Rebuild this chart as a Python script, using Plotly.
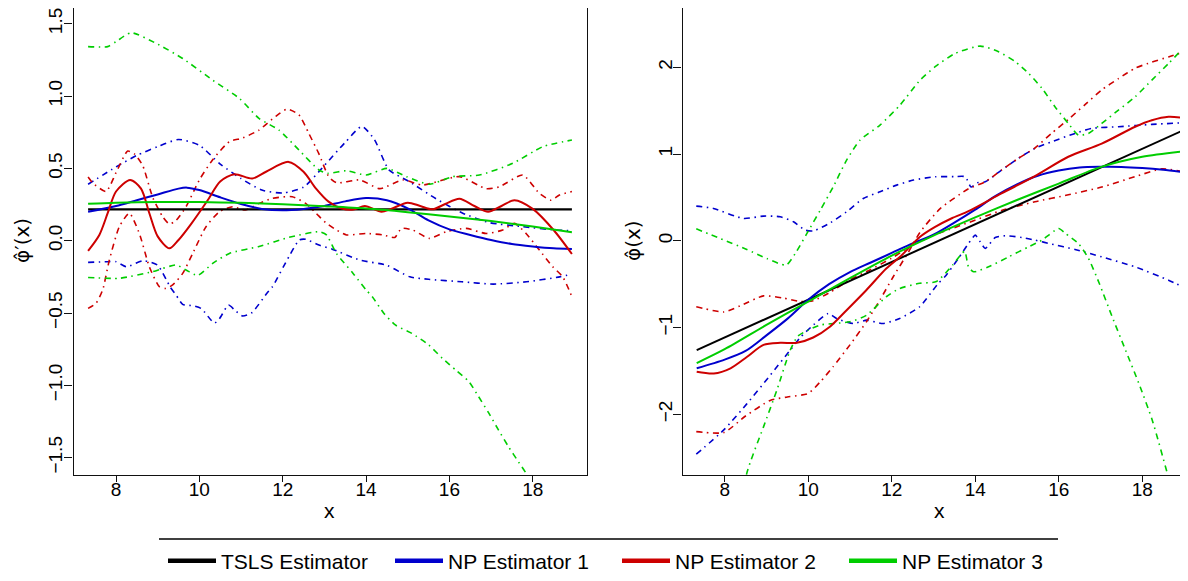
import plotly.graph_objects as go

# ---------------- LEFT PANEL: derivative estimates ----------------
L_tsls_x = [7.33, 18.94]
L_tsls_y = [0.217, 0.217]

L_np1_x = [7.33, 8.0, 8.5, 9.0, 9.5, 9.7, 10.0, 10.5, 11.0, 11.5, 12.0, 12.5, 13.0, 13.5, 14.0,
           14.5, 15.0, 15.5, 16.0, 16.5, 17.0, 17.5, 18.0, 18.5, 18.94]
L_np1_y = [0.20, 0.24, 0.28, 0.32, 0.36, 0.367, 0.35, 0.30, 0.254, 0.22, 0.21, 0.22, 0.24, 0.272, 0.295,
           0.28, 0.224, 0.14, 0.078, 0.04, 0.005, -0.023, -0.04, -0.053, -0.058]

L_np2_x = [7.33, 7.6, 7.8, 8.0, 8.34, 8.6, 8.8, 9.0, 9.28, 9.5, 9.8, 10.2, 10.5, 10.84, 11.27, 11.6,
           12.14, 12.5, 12.8, 13.1, 13.4, 13.7, 13.97, 14.37, 14.6, 15.0, 15.3, 15.6, 15.9, 16.24,
           16.6, 16.93, 17.25, 17.56, 18.0, 18.5, 18.94]
L_np2_y = [-0.07, 0.04, 0.19, 0.34, 0.42, 0.36, 0.19, 0.03, -0.053, 0.005, 0.115, 0.28, 0.41, 0.46, 0.43, 0.477,
           0.545, 0.477, 0.36, 0.27, 0.224, 0.215, 0.24, 0.20, 0.22, 0.263, 0.24, 0.217, 0.254, 0.29,
           0.24, 0.20, 0.24, 0.28, 0.22, 0.074, -0.092]

L_np3_x = [7.33, 8, 9, 10, 11, 12, 13, 14, 15, 16, 17, 18, 18.94]
L_np3_y = [0.255, 0.262, 0.267, 0.267, 0.262, 0.252, 0.238, 0.222, 0.197, 0.168, 0.136, 0.098, 0.058]

L_np1_up_x = [7.33, 8.0, 8.5, 9.0, 9.5, 10.0, 10.5, 11.0, 11.5, 12.0, 12.5, 13.0, 13.5, 13.9, 14.2,
              14.55, 15.03, 15.68, 16.32, 16.96, 17.76, 18.56, 18.94]
L_np1_up_y = [0.39, 0.51, 0.59, 0.65, 0.70, 0.66, 0.53, 0.43, 0.35, 0.33, 0.37, 0.52, 0.68, 0.79, 0.70,
              0.49, 0.41, 0.29, 0.19, 0.125, 0.097, 0.074, 0.07]

L_np1_lo_x = [7.33, 7.8, 8.0, 8.25, 8.65, 9.0, 9.3, 9.45, 9.6, 9.85, 10.05, 10.36, 10.48, 10.7, 10.85,
              11.03, 11.25, 11.63, 11.75, 12.15, 12.4, 12.55, 12.87, 13.2, 13.85, 14.5, 15.05, 15.5,
              16.3, 17.05, 17.85, 18.65, 18.94]
L_np1_lo_y = [-0.15, -0.145, -0.145, -0.18, -0.138, -0.17, -0.32, -0.38, -0.44, -0.45, -0.47, -0.57, -0.54,
              -0.445, -0.48, -0.52, -0.50, -0.36, -0.32, -0.11, 0.005, 0.01, -0.03, -0.06, -0.134, -0.17,
              -0.25, -0.267, -0.284, -0.30, -0.284, -0.25, -0.23]

L_np2_up_x = [7.33, 7.44, 7.76, 8.0, 8.28, 8.44, 8.64, 8.88, 9.12, 9.28, 9.44, 9.68, 10.0, 10.32, 10.72,
              11.04, 11.43, 11.83, 12.11, 12.39, 12.63, 12.87, 13.11, 13.3, 13.85, 14.33, 14.88, 15.36,
              16.24, 16.88, 17.2, 17.76, 18.16, 18.44, 18.64, 18.94]
L_np2_up_y = [0.44, 0.40, 0.34, 0.47, 0.62, 0.60, 0.52, 0.30, 0.166, 0.115, 0.14, 0.235, 0.42, 0.56, 0.685,
              0.71, 0.765, 0.86, 0.91, 0.87, 0.74, 0.60, 0.44, 0.40, 0.42, 0.36, 0.42, 0.385,
              0.443, 0.36, 0.373, 0.454, 0.327, 0.28, 0.316, 0.34]

L_np2_lo_x = [7.33, 7.52, 7.68, 7.84, 8.08, 8.32, 8.56, 8.8, 9.04, 9.2, 9.36, 9.6, 9.84, 10.16, 10.48,
              10.8, 11.1, 11.43, 11.75, 12.23, 12.55, 12.8, 13.03, 13.29, 13.53, 14.0, 14.4, 14.69,
              14.85, 15.12, 15.52, 15.92, 16.4, 16.88, 17.28, 17.56, 17.84, 18.16, 18.48, 18.72, 18.94]
L_np2_lo_y = [-0.468, -0.433, -0.34, -0.134, 0.097, 0.19, 0.05, -0.18, -0.318, -0.33, -0.306, -0.226, -0.088,
              0.097, 0.20, 0.235, 0.212, 0.258, 0.293, 0.304, 0.258, 0.19, 0.125, 0.074, 0.04, 0.05, 0.04,
              0.023, 0.085, 0.074, 0.016, 0.062, 0.085, 0.05, 0.074, 0.12, 0.05, -0.065, -0.18, -0.25, -0.387]

L_np3_up_x = [7.33, 7.8, 8.0, 8.36, 8.96, 9.6, 10.32, 10.96, 11.43, 11.91, 12.39, 12.87, 13.08, 13.53,
              14.0, 14.5, 14.97, 15.52, 16.08, 16.72, 17.52, 18.24, 18.94]
L_np3_up_y = [1.342, 1.342, 1.376, 1.438, 1.365, 1.26, 1.11, 0.984, 0.846, 0.765, 0.627, 0.489, 0.466, 0.484,
              0.454, 0.50, 0.443, 0.39, 0.443, 0.454, 0.535, 0.65, 0.696]

L_np3_lo_x = [7.33, 8.08, 8.88, 9.44, 9.68, 9.96, 10.32, 10.72, 11.43, 12.15, 12.87, 13.05, 13.29, 13.69,
              14.0, 14.15, 14.43, 14.71, 15.1, 15.5, 15.83, 16.15, 16.47, 16.7, 16.95, 17.18, 17.42,
              17.66, 17.86, 18.3, 18.94]
L_np3_lo_y = [-0.254, -0.26, -0.214, -0.168, -0.203, -0.24, -0.157, -0.088, -0.04, 0.023, 0.062, 0.04, -0.088,
              -0.226, -0.34, -0.387, -0.503, -0.584, -0.641, -0.72, -0.813, -0.894, -0.975, -1.078, -1.194,
              -1.31, -1.425, -1.53, -1.617, -1.85, -2.2]

# ---------------- RIGHT PANEL: function estimates ----------------
R_tsls_x = [7.33, 18.94]
R_tsls_y = [-1.26, 1.265]

R_np1_x = [7.33, 8.0, 8.5, 9.0, 9.5, 10.0, 10.5, 11.0, 11.5, 12.0, 12.5, 13.0, 13.5, 14.0, 14.5, 15.0,
           15.5, 16.0, 16.5, 17.0, 17.5, 18.0, 18.5, 18.94]
R_np1_y = [-1.47, -1.37, -1.27, -1.09, -0.90, -0.68, -0.50, -0.36, -0.25, -0.14, -0.03, 0.07, 0.21, 0.36,
           0.52, 0.65, 0.75, 0.81, 0.845, 0.853, 0.852, 0.84, 0.82, 0.795]

R_np2_x = [7.33, 7.74, 8.14, 8.53, 8.93, 9.33, 9.73, 10.12, 10.52, 10.92, 11.39, 11.87, 12.2, 12.68,
           13.04, 13.44, 13.84, 14.63, 15.43, 16.23, 17.03, 17.83, 18.23, 18.63, 18.94]
R_np2_y = [-1.51, -1.53, -1.47, -1.34, -1.20, -1.176, -1.176, -1.115, -0.99, -0.80, -0.57, -0.32, -0.185, 0.046,
           0.16, 0.26, 0.342, 0.546, 0.746, 0.969, 1.12, 1.315, 1.39, 1.43, 1.42]

R_np3_x = [7.33, 8, 9, 10, 11, 12, 13, 14, 15, 16, 17, 18, 18.94]
R_np3_y = [-1.41, -1.25, -0.97, -0.70, -0.43, -0.17, 0.06, 0.27, 0.47, 0.66, 0.85, 0.97, 1.03]

R_np1_up_x = [7.32, 7.73, 8.45, 8.93, 9.33, 9.65, 9.93, 10.13, 10.53, 10.92, 11.32, 11.72, 12.12, 12.52,
              13.04, 13.5, 13.76, 13.9, 14.05, 14.24, 14.63, 15.03, 15.43, 15.83, 16.39, 16.79, 17.43,
              18.23, 18.94]
R_np1_up_y = [0.40, 0.373, 0.258, 0.285, 0.277, 0.219, 0.123, 0.115, 0.208, 0.334, 0.488, 0.565, 0.642, 0.70,
              0.738, 0.74, 0.738, 0.62, 0.67, 0.68, 0.815, 0.95, 1.065, 1.142, 1.238, 1.296, 1.315,
              1.342, 1.36]

R_np1_lo_x = [7.32, 7.98, 8.53, 9.09, 9.57, 9.81, 10.12, 10.48, 10.68, 11.08, 11.4, 11.79, 12.19, 12.67,
              13.1, 13.3, 13.6, 13.84, 14.0, 14.12, 14.24, 14.48, 14.72, 15.12, 15.43, 15.83, 16.39,
              17.03, 17.83, 18.63, 18.94]
R_np1_lo_y = [-2.46, -2.18, -1.88, -1.55, -1.26, -1.115, -0.972, -0.838, -0.896, -0.953, -0.915, -0.953,
              -0.896, -0.76, -0.5, -0.4, -0.2, -0.03, 0.065, -0.012, -0.088, 0.038, 0.058, 0.038, 0.008,
              -0.038, -0.1, -0.185, -0.30, -0.454, -0.523]

R_np2_a_x = [7.32, 7.98, 8.37, 8.93, 9.41, 9.81, 10.12, 10.5, 11.0, 11.5, 12.0, 12.5, 13.04, 13.84, 14.63,
             15.43, 16.23, 17.03, 17.83, 18.47, 18.94]
R_np2_a_y = [-0.76, -0.82, -0.75, -0.635, -0.66, -0.70, -0.69, -0.60, -0.45, -0.33, -0.20, -0.05, 0.07, 0.21,
             0.35, 0.45, 0.53, 0.62, 0.74, 0.83, 0.80]

R_np2_b_x = [7.32, 7.98, 8.5, 9.09, 9.5, 10.0, 10.3, 10.6, 11.0, 11.4, 11.72, 12.03, 12.4, 12.68, 13.16,
             13.84, 14.24, 14.63, 15.03, 15.43, 15.83, 16.23, 16.63, 17.03, 17.43, 17.83, 18.23, 18.63,
             18.94]
R_np2_b_y = [-2.20, -2.21, -2.02, -1.84, -1.80, -1.76, -1.62, -1.45, -1.20, -0.93, -0.68, -0.42, -0.13, 0.10,
             0.37, 0.60, 0.68, 0.815, 0.95, 1.07, 1.24, 1.40, 1.57, 1.74, 1.87, 1.99, 2.06, 2.12, 2.17]

R_np3_up_x = [7.32, 7.89, 8.53, 9.01, 9.47, 9.69, 9.97, 10.29, 10.6, 10.92, 11.24, 11.72, 12.2, 12.68,
              13.04, 13.52, 14.12, 14.56, 14.96, 15.28, 15.6, 15.91, 16.23, 16.47, 16.71, 17.03, 17.43,
              17.83, 18.23, 18.63, 18.94]
R_np3_up_y = [0.138, 0.027, -0.1, -0.204, -0.28, -0.146, 0.085, 0.354, 0.623, 0.93, 1.16, 1.334, 1.565, 1.853,
              2.007, 2.16, 2.245, 2.18, 2.065, 1.93, 1.757, 1.546, 1.353, 1.219, 1.238, 1.353, 1.507,
              1.66, 1.853, 2.045, 2.2]

R_np3_lo_x = [8.3, 8.53, 8.93, 9.25, 9.57, 9.75, 10.0, 10.3, 10.62, 11.0, 11.4, 11.87, 12.19, 12.67, 13.07,
              13.46, 13.68, 13.75, 13.84, 13.96, 14.32, 14.8, 15.28, 15.6, 16.0, 16.16, 16.47, 16.71,
              16.97, 17.28, 17.6, 17.92, 18.24, 18.6, 18.94]
R_np3_lo_y = [-3.45, -2.68, -2.145, -1.722, -1.26, -1.10, -1.03, -0.97, -0.953, -0.934, -0.857, -0.645, -0.55,
              -0.49, -0.47, -0.28, -0.146, -0.12, -0.30, -0.357, -0.30, -0.185, -0.069, 0.008, 0.142,
              0.085, -0.03, -0.2, -0.49, -0.876, -1.26, -1.645, -2.068, -2.68, -3.3]

# ---------------- labels / styling ----------------
legend_names = ["TSLS Estimator", "NP Estimator 1", "NP Estimator 2", "NP Estimator 3"]
colors = ["#000000", "#0000CD", "#CD0000", "#00CD00"]
x_ticks = [8, 10, 12, 14, 16, 18]
left_y_ticks = [-1.5, -1.0, -0.5, 0.0, 0.5, 1.0, 1.5]
right_y_ticks = [-2, -1, 0, 1, 2]

FONT = "Liberation Sans, Arial, Helvetica, sans-serif"
TITLE_FONT = "DejaVu Sans, Liberation Sans, sans-serif"
OFF = 8                      # page body margin of the html page
W, H = 1188 - OFF, 581 - OFF  # figure size so that it fills the window


def px(v):   # page x pixel -> paper fraction
    return (v - OFF) / W


def py(v):   # page y pixel -> paper fraction
    return 1 - (v - OFF) / H


DASHDOT = "6px,4.5px,1.5px,4.5px"

fig = go.Figure()


def add(x, y, color, dash=None, width=2.0, xa="x", ya="y", smooth=0.8):
    fig.add_trace(go.Scatter(
        x=x, y=y, mode="lines", xaxis=xa, yaxis=ya, showlegend=False, hoverinfo="skip",
        line=dict(color=color, width=width, dash=dash, shape="spline", smoothing=smooth)))


# left panel
add(L_np1_up_x, L_np1_up_y, colors[1], DASHDOT, 1.6, smooth=0.6)
add(L_np1_lo_x, L_np1_lo_y, colors[1], DASHDOT, 1.6, smooth=0.6)
add(L_np2_up_x, L_np2_up_y, colors[2], DASHDOT, 1.6, smooth=0.6)
add(L_np2_lo_x, L_np2_lo_y, colors[2], DASHDOT, 1.6, smooth=0.6)
add(L_np3_up_x, L_np3_up_y, colors[3], DASHDOT, 1.6, smooth=0.6)
add(L_np3_lo_x, L_np3_lo_y, colors[3], DASHDOT, 1.6, smooth=0.6)
add(L_tsls_x, L_tsls_y, colors[0], None, 2.2)
add(L_np1_x, L_np1_y, colors[1], None, 2.0)
add(L_np2_x, L_np2_y, colors[2], None, 2.0)
add(L_np3_x, L_np3_y, colors[3], None, 2.0)

# right panel
add(R_np1_up_x, R_np1_up_y, colors[1], DASHDOT, 1.6, "x2", "y2", 0.6)
add(R_np1_lo_x, R_np1_lo_y, colors[1], DASHDOT, 1.6, "x2", "y2", 0.6)
add(R_np2_a_x, R_np2_a_y, colors[2], DASHDOT, 1.6, "x2", "y2", 0.6)
add(R_np2_b_x, R_np2_b_y, colors[2], DASHDOT, 1.6, "x2", "y2", 0.6)
add(R_np3_up_x, R_np3_up_y, colors[3], DASHDOT, 1.6, "x2", "y2", 0.6)
add(R_np3_lo_x, R_np3_lo_y, colors[3], DASHDOT, 1.6, "x2", "y2", 0.6)
add(R_tsls_x, R_tsls_y, colors[0], None, 2.0, "x2", "y2")
add(R_np1_x, R_np1_y, colors[1], None, 2.0, "x2", "y2")
add(R_np2_x, R_np2_y, colors[2], None, 2.0, "x2", "y2")
add(R_np3_x, R_np3_y, colors[3], None, 2.0, "x2", "y2")

# legend entries
for name, c in zip(legend_names, colors):
    fig.add_trace(go.Scatter(x=[None], y=[None], mode="lines", name=name,
                             line=dict(color=c, width=4.5), xaxis="x", yaxis="y"))

# plot box: bottom at page y 475, top clipped at the page offset (8px)
ydom = [py(475), 1.0]
axis_common = dict(showgrid=False, zeroline=False, showline=True, linecolor="#111", linewidth=1.3,
                   ticks="outside", tickcolor="#111", tickwidth=1.2, automargin=False,
                   ticklabeloverflow="allow",
                   tickfont=dict(family=FONT, size=19, color="#000"))

fig.update_layout(
    width=W, height=H, autosize=False,
    margin=dict(l=0, r=0, t=0, b=0, autoexpand=False),
    paper_bgcolor="white", plot_bgcolor="white",
    font=dict(family=FONT, color="#000"),
    xaxis=dict(domain=[px(73.5), px(586.5)], range=[6.98, 19.29], tickvals=x_ticks,
               mirror=True, ticklen=6, ticklabelstandoff=-9, anchor="y", **axis_common),
    yaxis=dict(domain=ydom, range=[-1.62, 1.609], tickvals=left_y_ticks, tickformat=".1f",
               tickangle=-90, mirror=True, ticklen=8, ticklabelstandoff=-5, anchor="x", **axis_common),
    xaxis2=dict(domain=[px(682.5), 1.0], range=[6.99, 19.096], tickvals=x_ticks,
                mirror=True, ticklen=6, ticklabelstandoff=-9, anchor="y2", **axis_common),
    yaxis2=dict(domain=ydom, range=[-2.70, 2.684], tickvals=right_y_ticks, tickformat="d",
                tickangle=-90, mirror=False, ticklen=8, ticklabelstandoff=-6, anchor="x2", **axis_common),
    showlegend=True,
    legend=dict(orientation="h", x=px(163), y=py(561), xanchor="left", yanchor="middle",
                font=dict(family=FONT, size=21, color="#000"), entrywidth=164, entrywidthmode="pixels",
                itemwidth=48, bgcolor="rgba(0,0,0,0)", traceorder="normal"),
    shapes=[dict(type="line", xref="paper", yref="paper", x0=px(159), x1=px(1058),
                 y0=py(539), y1=py(539), line=dict(color="#000", width=1.3))],
    annotations=[
        dict(text="x", xref="paper", yref="paper", x=px(330), y=py(511), showarrow=False,
             xanchor="center", yanchor="middle", font=dict(family=FONT, size=21)),
        dict(text="x", xref="paper", yref="paper", x=px(939), y=py(511), showarrow=False,
             xanchor="center", yanchor="middle", font=dict(family=FONT, size=21)),
        dict(text="φ̂′(x)", xref="paper", yref="paper", x=px(22), y=py(241), showarrow=False,
             textangle=-90, xanchor="center", yanchor="middle", font=dict(family=TITLE_FONT, size=20)),
        dict(text="φ̂(x)", xref="paper", yref="paper", x=px(633), y=py(241), showarrow=False,
             textangle=-90, xanchor="center", yanchor="middle", font=dict(family=TITLE_FONT, size=20)),
    ],
)

fig.write_html("out.html")
